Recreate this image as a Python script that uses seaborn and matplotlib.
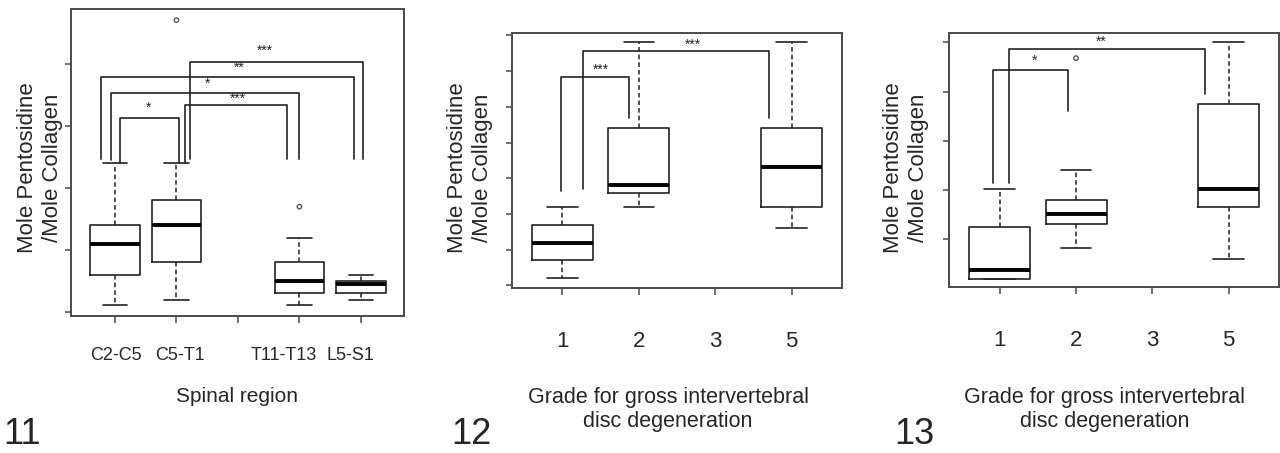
import numpy as np
import pandas as pd
import matplotlib
matplotlib.use("Agg")
import matplotlib.pyplot as plt
import matplotlib.transforms as mtrans
import seaborn as sns

# ---- panel 11: spinal region (five-number summaries)
region_order = ["C2-C5", "C5-T1", " ", "T11-T13", "L5-S1"]
region_cats = ["C2-C5", "C5-T1", "T11-T13", "L5-S1"]
region_low = [0.11, 0.20, 0.11, 0.20]
region_q1 = [0.60, 0.80, 0.30, 0.30]
region_med = [1.10, 1.40, 0.50, 0.45]
region_q3 = [1.40, 1.80, 0.80, 0.50]
region_high = [2.40, 2.40, 1.20, 0.59]
region_out_cat = ["C5-T1", "T11-T13"]
region_out_val = [4.71, 1.70]
# brackets: left x, right x, top y, left-leg bottom, right-leg bottom, stars, star x, star y
region_brackets = [
    (0.08, 1.04, 3.13, 2.40, 2.40, "*", 0.55, 3.29),
    (1.14, 2.80, 3.34, 2.40, 2.47, "***", 2.00, 3.44),
    (-0.07, 2.99, 3.53, 2.45, 2.47, "*", 1.50, 3.69),
    (-0.23, 3.89, 3.79, 2.47, 2.47, "**", 2.02, 3.94),
    (1.22, 4.03, 4.03, 2.47, 2.47, "***", 2.44, 4.21),
]

# ---- panel 12: disc degeneration grade
grade_order = ["1", "2", "3", "5"]
grade_cats = ["1", "2", "5"]
g12_low = [0.20, 2.19, 1.60]
g12_q1 = [0.70, 2.59, 2.19]
g12_med = [1.20, 2.81, 3.31]
g12_q3 = [1.69, 4.41, 4.41]
g12_high = [2.19, 6.81, 6.81]
g12_brackets = [
    (-0.02, 0.87, 5.83, 2.64, 4.68, "***", 0.50, 6.03),
    (0.27, 2.71, 6.57, 2.70, 4.68, "***", 1.71, 6.75),
]

# ---- panel 13: disc degeneration grade
g13_low = [0.19, 0.81, 0.60]
g13_q1 = [0.19, 1.30, 1.65]
g13_med = [0.36, 1.50, 2.01]
g13_q3 = [1.25, 1.80, 3.74]
g13_high = [2.01, 2.40, 5.00]
g13_out_cat = ["2"]
g13_out_val = [4.68]
g13_brackets = [
    (-0.09, 0.90, 4.43, 2.13, 3.61, "*", 0.45, 4.62),
    (0.12, 2.69, 4.86, 2.13, 3.95, "**", 1.33, 5.02),
]

sns.set_style("ticks")
plt.rcParams["font.family"] = ["Liberation Sans", "DejaVu Sans"]

LINE = "#222222"
W, H = 1280, 453


def to_long(cats, low, q1, med, q3, high):
    rows = []
    for c, a, b, m, d, e in zip(cats, low, q1, med, q3, high):
        for v in (a, b, m, d, e):
            rows.append({"cat": c, "val": v})
    return pd.DataFrame(rows)


def panel(ax, df, order, brackets, yticks, xlim, ylim, out_cat=(), out_val=()):
    sns.boxplot(data=df, x="cat", y="val", order=order, ax=ax, whis=np.inf,
                width=0.8, fill=False, color=LINE, linewidth=1.2,
                showfliers=False,
                whiskerprops=dict(linestyle=(0, (3, 2)), linewidth=1.1),
                medianprops=dict(linewidth=2.8, color="black"))
    xs = [order.index(c) for c in out_cat]
    ax.scatter(xs, out_val, s=10, facecolors="none", edgecolors="#555555",
               linewidths=1.0, zorder=3)
    for xl, xr, yt, ybl, ybr, lab, tx, ty in brackets:
        ax.plot([xl, xl, xr, xr], [ybl, yt, yt, ybr], color=LINE, lw=1.2)
        ax.text(tx, ty, lab, ha="center", va="center", fontsize=10, color=LINE)
    ax.set_xlim(*xlim)
    ax.set_ylim(*ylim)
    ax.set_yticks(yticks)
    ax.set_yticklabels([])
    ax.set_xlabel("")
    ax.set_ylabel("")
    for s in ax.spines.values():
        s.set_visible(True)
        s.set_color("#4a4a4a")
        s.set_linewidth(1.4)
    ax.tick_params(axis="y", length=4, width=1.1, color="#4a4a4a")
    ax.tick_params(axis="x", length=5, width=1.1, color="#4a4a4a")


def px_axes(fig, l, r, t, b):
    return fig.add_axes([l / W, 1 - b / H, (r - l) / W, (b - t) / H])


fig = plt.figure(figsize=(12.8, 4.53), dpi=100)

ax1 = px_axes(fig, 71, 404, 9, 316)
panel(ax1, to_long(region_cats, region_low, region_q1, region_med, region_q3, region_high),
      region_order, region_brackets, [0, 1, 2, 3, 4], (-0.715, 4.70), (-0.065, 4.89),
      region_out_cat, region_out_val)
ax1.tick_params(axis="x", labelsize=13, pad=17)
# the spinal-region labels sit a little off their ticks in the original
for lab, dx in zip(ax1.get_xticklabels(), [1, 3, 0, -16, -11]):
    lab.set_transform(lab.get_transform() +
                      mtrans.ScaledTranslation(dx / 100, 0, fig.dpi_scale_trans))

ax2 = px_axes(fig, 512, 842, 33, 287.5)
panel(ax2, to_long(grade_cats, g12_low, g12_q1, g12_med, g12_q3, g12_high),
      grade_order, g12_brackets, list(range(8)), (-0.66, 3.66), (-0.06, 7.07))
ax2.tick_params(axis="x", labelsize=16, pad=26)

ax3 = px_axes(fig, 949, 1279, 33, 287.3)
panel(ax3, to_long(grade_cats, g13_low, g13_q1, g13_med, g13_q3, g13_high),
      grade_order, g13_brackets, [1, 2, 3, 4, 5], (-0.665, 3.66), (0.018, 5.19),
      g13_out_cat, g13_out_val)
ax3.tick_params(axis="x", labelsize=16, pad=26)

ylab = "Mole Pentosidine\n/Mole Collagen"
for x in (40, 470, 906):
    fig.text(x / W, 1 - 168 / H, ylab, rotation=90, ha="center", va="center",
             multialignment="center", fontsize=16, linespacing=1.3)

fig.text(237 / W, 1 - 396 / H, "Spinal region", ha="center", va="center", fontsize=15)
for x in (668, 1105):
    fig.text(x / W, 1 - 409.5 / H, "Grade for gross intervertebral\ndisc degeneration",
             ha="center", va="center", fontsize=15.5, linespacing=1.2,
             multialignment="center")

for x, lab in ((22, "11"), (471, "12"), (914, "13")):
    fig.text(x / W, 1 - 435 / H, lab, ha="center", va="center", fontsize=26)

fig.savefig("out.png", dpi=100)
